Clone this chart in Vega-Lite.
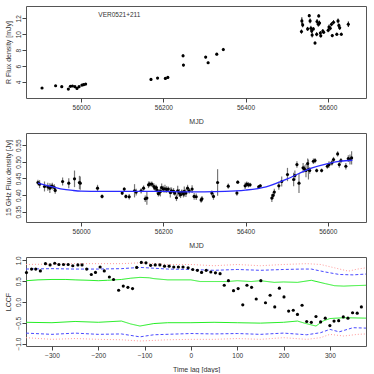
{
  "$schema": "https://vega.github.io/schema/vega-lite/v6.json",
  "padding": {"left": 3, "top": 5, "right": 0, "bottom": 0},
  "spacing": 35,
  "bounds": "flush",
  "config": {
    "font": "Liberation Sans",
    "view": {"stroke": "#555", "strokeWidth": 1},
    "axis": {
      "grid": false, "domain": false, "labelOverlap": false,
      "labelFontSize": 6.5, "titleFontSize": 7, "titleFontWeight": "normal",
      "labelColor": "#333", "titleColor": "#333", "tickColor": "#444", "tickSize": 4,
      "labelPadding": 2
    },
    "axisX": {"titlePadding": 7},
    "axisY": {"labelAngle": -90, "labelAlign": "center", "labelBaseline": "bottom", "labelPadding": 1, "titlePadding": 4}
  },
  "vconcat": [
    {
      "width": 340, "height": 92,
      "encoding": {
        "x": {"field": "mjd", "type": "quantitative", "title": "MJD", "scale": {"domain": [55866, 56693], "nice": false, "zero": false},
              "axis": {"values": [56000, 56200, 56400, 56600], "format": "d", "tickCount": 4}},
        "y": {"field": "flux", "type": "quantitative", "title": "R Flux density [mJy]", "scale": {"domain": [2.0, 13.54], "nice": false, "zero": false},
              "axis": {"values": [4, 6, 8, 10, 12], "format": "d", "tickCount": 6}}
      },
      "data": {"values": [
        {"mjd": 55905, "flux": 3.25, "err": 0.1},
        {"mjd": 55938, "flux": 3.54, "err": 0.1},
        {"mjd": 55953, "flux": 3.42, "err": 0.1},
        {"mjd": 55969, "flux": 3.12, "err": 0.1},
        {"mjd": 55974, "flux": 3.46, "err": 0.1},
        {"mjd": 55979, "flux": 3.5, "err": 0.1},
        {"mjd": 55985, "flux": 3.42, "err": 0.1},
        {"mjd": 55990, "flux": 3.2, "err": 0.1},
        {"mjd": 55995, "flux": 3.42, "err": 0.1},
        {"mjd": 56002, "flux": 3.62, "err": 0.12},
        {"mjd": 56006, "flux": 3.67, "err": 0.12},
        {"mjd": 56011, "flux": 3.75, "err": 0.12},
        {"mjd": 56170, "flux": 4.33, "err": 0.12},
        {"mjd": 56186, "flux": 4.5, "err": 0.12},
        {"mjd": 56205, "flux": 4.46, "err": 0.12},
        {"mjd": 56211, "flux": 4.58, "err": 0.12},
        {"mjd": 56248, "flux": 7.3, "err": 0.2},
        {"mjd": 56249, "flux": 6.13, "err": 0.15},
        {"mjd": 56303, "flux": 7.13, "err": 0.15},
        {"mjd": 56309, "flux": 6.42, "err": 0.15},
        {"mjd": 56330, "flux": 7.5, "err": 0.15},
        {"mjd": 56346, "flux": 8.08, "err": 0.2},
        {"mjd": 56536, "flux": 10.33, "err": 0.25},
        {"mjd": 56537, "flux": 11.67, "err": 0.45},
        {"mjd": 56539, "flux": 11.17, "err": 0.3},
        {"mjd": 56551, "flux": 10.67, "err": 0.25},
        {"mjd": 56555, "flux": 12.33, "err": 0.2},
        {"mjd": 56557, "flux": 11.67, "err": 0.3},
        {"mjd": 56559, "flux": 10.75, "err": 0.3},
        {"mjd": 56561, "flux": 10.4, "err": 0.25},
        {"mjd": 56562, "flux": 9.9, "err": 0.3},
        {"mjd": 56565, "flux": 10.67, "err": 0.2},
        {"mjd": 56569, "flux": 8.9, "err": 0.2},
        {"mjd": 56573, "flux": 10.0, "err": 0.25},
        {"mjd": 56574, "flux": 11.6, "err": 0.3},
        {"mjd": 56577, "flux": 11.25, "err": 0.3},
        {"mjd": 56578, "flux": 12.3, "err": 0.2},
        {"mjd": 56580, "flux": 11.4, "err": 0.3},
        {"mjd": 56582, "flux": 10.15, "err": 0.25},
        {"mjd": 56583, "flux": 9.8, "err": 0.2},
        {"mjd": 56588, "flux": 10.4, "err": 0.25},
        {"mjd": 56590, "flux": 10.25, "err": 0.2},
        {"mjd": 56601, "flux": 10.5, "err": 0.25},
        {"mjd": 56603, "flux": 10.9, "err": 0.3},
        {"mjd": 56606, "flux": 10.75, "err": 0.25},
        {"mjd": 56609, "flux": 11.25, "err": 0.25},
        {"mjd": 56611, "flux": 9.83, "err": 0.2},
        {"mjd": 56614, "flux": 11.5, "err": 0.25},
        {"mjd": 56622, "flux": 10.0, "err": 0.2},
        {"mjd": 56625, "flux": 11.67, "err": 0.3},
        {"mjd": 56627, "flux": 11.1, "err": 0.25},
        {"mjd": 56629, "flux": 10.8, "err": 0.25},
        {"mjd": 56633, "flux": 10.0, "err": 0.2},
        {"mjd": 56650, "flux": 11.25, "err": 0.35}
      ]},
      "layer": [
        {
          "mark": {"type": "errorbar", "color": "black", "thickness": 1},
          "encoding": {"yError": {"field": "err"}}
        },
        {
          "mark": {"type": "point", "filled": true, "color": "black", "size": 10, "opacity": 1}
        },
        {
          "data": {"values": [{"mjd": 56093, "flux": 12.41, "label": "VER0521+211"}]},
          "mark": {"type": "text", "fontSize": 6.5, "color": "#333", "font": "Liberation Sans"},
          "encoding": {"text": {"field": "label"}}
        }
      ]
    },
    {
      "width": 340, "height": 89,
      "encoding": {
        "x": {"field": "mjd", "type": "quantitative", "title": "MJD", "scale": {"domain": [55866, 56693], "nice": false, "zero": false},
              "axis": {"values": [56000, 56200, 56400, 56600], "format": "d", "tickCount": 4}},
        "y": {"field": "flux", "type": "quantitative", "title": "15 GHz Flux density [Jy]", "scale": {"domain": [0.319, 0.587], "nice": false, "zero": false},
              "axis": {"values": [0.35, 0.4, 0.45, 0.5, 0.55], "format": ".2f", "tickCount": 6}}
      },
      "layer": [
        {
          "data": {"values": [
            {"mjd": 55895, "flux": 0.438, "err": 0.008},
            {"mjd": 55899, "flux": 0.433, "err": 0.012},
            {"mjd": 55911, "flux": 0.426, "err": 0.015},
            {"mjd": 55919, "flux": 0.425, "err": 0.012},
            {"mjd": 55924, "flux": 0.421, "err": 0.015},
            {"mjd": 55927, "flux": 0.426, "err": 0.008},
            {"mjd": 55930, "flux": 0.427, "err": 0.01},
            {"mjd": 55935, "flux": 0.423, "err": 0.01},
            {"mjd": 55937, "flux": 0.414, "err": 0.01},
            {"mjd": 55955, "flux": 0.441, "err": 0.012},
            {"mjd": 55970, "flux": 0.436, "err": 0.015},
            {"mjd": 55984, "flux": 0.449, "err": 0.025},
            {"mjd": 55996, "flux": 0.438, "err": 0.02},
            {"mjd": 55998, "flux": 0.436, "err": 0.02},
            {"mjd": 56040, "flux": 0.421, "err": 0.01},
            {"mjd": 56051, "flux": 0.396, "err": 0.006},
            {"mjd": 56100, "flux": 0.406, "err": 0.006},
            {"mjd": 56105, "flux": 0.418, "err": 0.006},
            {"mjd": 56109, "flux": 0.396, "err": 0.006},
            {"mjd": 56117, "flux": 0.395, "err": 0.008},
            {"mjd": 56130, "flux": 0.413, "err": 0.02},
            {"mjd": 56134, "flux": 0.409, "err": 0.01},
            {"mjd": 56146, "flux": 0.413, "err": 0.008},
            {"mjd": 56152, "flux": 0.421, "err": 0.008},
            {"mjd": 56156, "flux": 0.389, "err": 0.01},
            {"mjd": 56160, "flux": 0.391, "err": 0.02},
            {"mjd": 56164, "flux": 0.431, "err": 0.01},
            {"mjd": 56167, "flux": 0.433, "err": 0.008},
            {"mjd": 56172, "flux": 0.433, "err": 0.008},
            {"mjd": 56177, "flux": 0.426, "err": 0.01},
            {"mjd": 56180, "flux": 0.421, "err": 0.01},
            {"mjd": 56183, "flux": 0.423, "err": 0.008},
            {"mjd": 56185, "flux": 0.414, "err": 0.01},
            {"mjd": 56188, "flux": 0.404, "err": 0.008},
            {"mjd": 56190, "flux": 0.408, "err": 0.01},
            {"mjd": 56193, "flux": 0.411, "err": 0.015},
            {"mjd": 56196, "flux": 0.423, "err": 0.012},
            {"mjd": 56200, "flux": 0.418, "err": 0.01},
            {"mjd": 56204, "flux": 0.419, "err": 0.012},
            {"mjd": 56208, "flux": 0.417, "err": 0.01},
            {"mjd": 56212, "flux": 0.418, "err": 0.008},
            {"mjd": 56217, "flux": 0.408, "err": 0.015},
            {"mjd": 56220, "flux": 0.413, "err": 0.01},
            {"mjd": 56225, "flux": 0.411, "err": 0.01},
            {"mjd": 56228, "flux": 0.406, "err": 0.008},
            {"mjd": 56232, "flux": 0.392, "err": 0.01},
            {"mjd": 56235, "flux": 0.413, "err": 0.015},
            {"mjd": 56239, "flux": 0.406, "err": 0.012},
            {"mjd": 56242, "flux": 0.401, "err": 0.01},
            {"mjd": 56245, "flux": 0.409, "err": 0.008},
            {"mjd": 56249, "flux": 0.403, "err": 0.01},
            {"mjd": 56251, "flux": 0.411, "err": 0.015},
            {"mjd": 56255, "flux": 0.406, "err": 0.012},
            {"mjd": 56259, "flux": 0.421, "err": 0.01},
            {"mjd": 56263, "flux": 0.413, "err": 0.008},
            {"mjd": 56270, "flux": 0.418, "err": 0.012},
            {"mjd": 56275, "flux": 0.396, "err": 0.01},
            {"mjd": 56280, "flux": 0.395, "err": 0.01},
            {"mjd": 56292, "flux": 0.385, "err": 0.008},
            {"mjd": 56294, "flux": 0.389, "err": 0.008},
            {"mjd": 56318, "flux": 0.406, "err": 0.008},
            {"mjd": 56322, "flux": 0.396, "err": 0.01},
            {"mjd": 56332, "flux": 0.438, "err": 0.04},
            {"mjd": 56358, "flux": 0.427, "err": 0.008},
            {"mjd": 56379, "flux": 0.406, "err": 0.008},
            {"mjd": 56381, "flux": 0.439, "err": 0.005},
            {"mjd": 56399, "flux": 0.428, "err": 0.01},
            {"mjd": 56403, "flux": 0.433, "err": 0.008},
            {"mjd": 56407, "flux": 0.431, "err": 0.008},
            {"mjd": 56411, "flux": 0.431, "err": 0.006},
            {"mjd": 56432, "flux": 0.425, "err": 0.005},
            {"mjd": 56436, "flux": 0.428, "err": 0.005},
            {"mjd": 56464, "flux": 0.391, "err": 0.012},
            {"mjd": 56467, "flux": 0.399, "err": 0.01},
            {"mjd": 56470, "flux": 0.409, "err": 0.01},
            {"mjd": 56481, "flux": 0.428, "err": 0.012},
            {"mjd": 56488, "flux": 0.441, "err": 0.015},
            {"mjd": 56502, "flux": 0.462, "err": 0.02},
            {"mjd": 56517, "flux": 0.447, "err": 0.02},
            {"mjd": 56520, "flux": 0.459, "err": 0.015},
            {"mjd": 56525, "flux": 0.492, "err": 0.01},
            {"mjd": 56530, "flux": 0.436, "err": 0.03},
            {"mjd": 56540, "flux": 0.482, "err": 0.015},
            {"mjd": 56543, "flux": 0.479, "err": 0.01},
            {"mjd": 56547, "flux": 0.474, "err": 0.02},
            {"mjd": 56551, "flux": 0.495, "err": 0.015},
            {"mjd": 56553, "flux": 0.477, "err": 0.03},
            {"mjd": 56556, "flux": 0.474, "err": 0.01},
            {"mjd": 56565, "flux": 0.502, "err": 0.008},
            {"mjd": 56569, "flux": 0.504, "err": 0.008},
            {"mjd": 56573, "flux": 0.474, "err": 0.006},
            {"mjd": 56585, "flux": 0.474, "err": 0.006},
            {"mjd": 56599, "flux": 0.487, "err": 0.008},
            {"mjd": 56603, "flux": 0.492, "err": 0.01},
            {"mjd": 56610, "flux": 0.497, "err": 0.008},
            {"mjd": 56614, "flux": 0.507, "err": 0.008},
            {"mjd": 56624, "flux": 0.524, "err": 0.008},
            {"mjd": 56628, "flux": 0.492, "err": 0.01},
            {"mjd": 56632, "flux": 0.504, "err": 0.008},
            {"mjd": 56644, "flux": 0.487, "err": 0.01},
            {"mjd": 56650, "flux": 0.51, "err": 0.01},
            {"mjd": 56654, "flux": 0.507, "err": 0.015},
            {"mjd": 56658, "flux": 0.512, "err": 0.02}
          ]},
          "layer": [
            {
              "mark": {"type": "errorbar", "color": "#777", "thickness": 1.2},
              "encoding": {"yError": {"field": "err"}}
            },
            {
              "mark": {"type": "point", "filled": true, "color": "black", "size": 10, "opacity": 1}
            }
          ]
        },
        {
          "data": {"values": [
            {"mjd": 55895, "flux": 0.436}, {"mjd": 55920, "flux": 0.428}, {"mjd": 55950, "flux": 0.419},
            {"mjd": 55980, "flux": 0.414}, {"mjd": 56000, "flux": 0.412}, {"mjd": 56050, "flux": 0.411},
            {"mjd": 56100, "flux": 0.411}, {"mjd": 56150, "flux": 0.411}, {"mjd": 56200, "flux": 0.411},
            {"mjd": 56250, "flux": 0.41}, {"mjd": 56300, "flux": 0.41}, {"mjd": 56350, "flux": 0.411},
            {"mjd": 56400, "flux": 0.415}, {"mjd": 56450, "flux": 0.425}, {"mjd": 56500, "flux": 0.448},
            {"mjd": 56530, "flux": 0.465}, {"mjd": 56560, "flux": 0.481}, {"mjd": 56600, "flux": 0.495},
            {"mjd": 56630, "flux": 0.502}, {"mjd": 56660, "flux": 0.505}
          ]},
          "mark": {"type": "line", "color": "#2a2aff", "strokeWidth": 1.3, "interpolate": "monotone"}
        }
      ]
    },
    {
      "width": 340, "height": 89,
      "encoding": {
        "x": {"field": "lag", "type": "quantitative", "title": "Time lag [days]", "scale": {"domain": [-356, 378], "nice": false, "zero": false},
              "axis": {"values": [-300, -200, -100, 0, 100, 200, 300], "format": "d", "tickCount": 7}},
        "y": {"field": "v", "type": "quantitative", "title": "LCCF", "scale": {"domain": [-1.06, 1.08], "nice": false, "zero": false},
              "axis": {"values": [-1, -0.5, 0, 0.5, 1], "format": ".1f", "tickCount": 5}}
      },
      "layer": [
        {
          "data": {"values": [
            {"lag": -356, "v": 0.51, "lvl": "g", "side": "u"}, {"lag": -330, "v": 0.53, "lvl": "g", "side": "u"},
            {"lag": -300, "v": 0.54, "lvl": "g", "side": "u"}, {"lag": -270, "v": 0.54, "lvl": "g", "side": "u"},
            {"lag": -250, "v": 0.53, "lvl": "g", "side": "u"}, {"lag": -220, "v": 0.52, "lvl": "g", "side": "u"},
            {"lag": -200, "v": 0.51, "lvl": "g", "side": "u"}, {"lag": -180, "v": 0.52, "lvl": "g", "side": "u"},
            {"lag": -150, "v": 0.54, "lvl": "g", "side": "u"}, {"lag": -130, "v": 0.57, "lvl": "g", "side": "u"},
            {"lag": -110, "v": 0.59, "lvl": "g", "side": "u"}, {"lag": -90, "v": 0.58, "lvl": "g", "side": "u"},
            {"lag": -80, "v": 0.56, "lvl": "g", "side": "u"}, {"lag": -50, "v": 0.53, "lvl": "g", "side": "u"},
            {"lag": -20, "v": 0.53, "lvl": "g", "side": "u"}, {"lag": 0, "v": 0.53, "lvl": "g", "side": "u"},
            {"lag": 20, "v": 0.49, "lvl": "g", "side": "u"}, {"lag": 50, "v": 0.49, "lvl": "g", "side": "u"},
            {"lag": 80, "v": 0.49, "lvl": "g", "side": "u"}, {"lag": 100, "v": 0.51, "lvl": "g", "side": "u"},
            {"lag": 130, "v": 0.49, "lvl": "g", "side": "u"}, {"lag": 150, "v": 0.51, "lvl": "g", "side": "u"},
            {"lag": 180, "v": 0.47, "lvl": "g", "side": "u"}, {"lag": 200, "v": 0.48, "lvl": "g", "side": "u"},
            {"lag": 230, "v": 0.47, "lvl": "g", "side": "u"}, {"lag": 260, "v": 0.52, "lvl": "g", "side": "u"},
            {"lag": 290, "v": 0.44, "lvl": "g", "side": "u"}, {"lag": 310, "v": 0.39, "lvl": "g", "side": "u"},
            {"lag": 330, "v": 0.38, "lvl": "g", "side": "u"}, {"lag": 350, "v": 0.39, "lvl": "g", "side": "u"},
            {"lag": 378, "v": 0.4, "lvl": "g", "side": "u"},

            {"lag": -356, "v": -0.49, "lvl": "g", "side": "l"}, {"lag": -300, "v": -0.5, "lvl": "g", "side": "l"},
            {"lag": -250, "v": -0.47, "lvl": "g", "side": "l"}, {"lag": -200, "v": -0.49, "lvl": "g", "side": "l"},
            {"lag": -150, "v": -0.46, "lvl": "g", "side": "l"}, {"lag": -130, "v": -0.53, "lvl": "g", "side": "l"},
            {"lag": -110, "v": -0.58, "lvl": "g", "side": "l"}, {"lag": -80, "v": -0.52, "lvl": "g", "side": "l"},
            {"lag": -50, "v": -0.5, "lvl": "g", "side": "l"}, {"lag": 0, "v": -0.5, "lvl": "g", "side": "l"},
            {"lag": 50, "v": -0.49, "lvl": "g", "side": "l"}, {"lag": 100, "v": -0.5, "lvl": "g", "side": "l"},
            {"lag": 150, "v": -0.51, "lvl": "g", "side": "l"}, {"lag": 200, "v": -0.49, "lvl": "g", "side": "l"},
            {"lag": 230, "v": -0.46, "lvl": "g", "side": "l"}, {"lag": 245, "v": -0.51, "lvl": "g", "side": "l"},
            {"lag": 270, "v": -0.58, "lvl": "g", "side": "l"}, {"lag": 285, "v": -0.46, "lvl": "g", "side": "l"},
            {"lag": 300, "v": -0.4, "lvl": "g", "side": "l"}, {"lag": 330, "v": -0.38, "lvl": "g", "side": "l"},
            {"lag": 378, "v": -0.39, "lvl": "g", "side": "l"},

            {"lag": -356, "v": 0.79, "lvl": "b", "side": "u"}, {"lag": -300, "v": 0.8, "lvl": "b", "side": "u"},
            {"lag": -250, "v": 0.79, "lvl": "b", "side": "u"}, {"lag": -200, "v": 0.79, "lvl": "b", "side": "u"},
            {"lag": -150, "v": 0.8, "lvl": "b", "side": "u"}, {"lag": -110, "v": 0.83, "lvl": "b", "side": "u"},
            {"lag": -50, "v": 0.79, "lvl": "b", "side": "u"}, {"lag": 0, "v": 0.78, "lvl": "b", "side": "u"},
            {"lag": 50, "v": 0.76, "lvl": "b", "side": "u"}, {"lag": 100, "v": 0.78, "lvl": "b", "side": "u"},
            {"lag": 150, "v": 0.76, "lvl": "b", "side": "u"}, {"lag": 200, "v": 0.78, "lvl": "b", "side": "u"},
            {"lag": 240, "v": 0.79, "lvl": "b", "side": "u"}, {"lag": 260, "v": 0.79, "lvl": "b", "side": "u"},
            {"lag": 290, "v": 0.72, "lvl": "b", "side": "u"}, {"lag": 320, "v": 0.66, "lvl": "b", "side": "u"},
            {"lag": 350, "v": 0.65, "lvl": "b", "side": "u"}, {"lag": 378, "v": 0.67, "lvl": "b", "side": "u"},

            {"lag": -356, "v": -0.75, "lvl": "b", "side": "l"}, {"lag": -300, "v": -0.78, "lvl": "b", "side": "l"},
            {"lag": -250, "v": -0.75, "lvl": "b", "side": "l"}, {"lag": -200, "v": -0.78, "lvl": "b", "side": "l"},
            {"lag": -150, "v": -0.77, "lvl": "b", "side": "l"}, {"lag": -110, "v": -0.84, "lvl": "b", "side": "l"},
            {"lag": -80, "v": -0.79, "lvl": "b", "side": "l"}, {"lag": 0, "v": -0.76, "lvl": "b", "side": "l"},
            {"lag": 50, "v": -0.77, "lvl": "b", "side": "l"}, {"lag": 100, "v": -0.76, "lvl": "b", "side": "l"},
            {"lag": 150, "v": -0.78, "lvl": "b", "side": "l"}, {"lag": 200, "v": -0.75, "lvl": "b", "side": "l"},
            {"lag": 250, "v": -0.79, "lvl": "b", "side": "l"}, {"lag": 280, "v": -0.74, "lvl": "b", "side": "l"},
            {"lag": 300, "v": -0.66, "lvl": "b", "side": "l"}, {"lag": 320, "v": -0.72, "lvl": "b", "side": "l"},
            {"lag": 350, "v": -0.62, "lvl": "b", "side": "l"}, {"lag": 378, "v": -0.63, "lvl": "b", "side": "l"},

            {"lag": -356, "v": 0.9, "lvl": "r", "side": "u"}, {"lag": -300, "v": 0.91, "lvl": "r", "side": "u"},
            {"lag": -250, "v": 0.92, "lvl": "r", "side": "u"}, {"lag": -200, "v": 0.92, "lvl": "r", "side": "u"},
            {"lag": -150, "v": 0.92, "lvl": "r", "side": "u"}, {"lag": -110, "v": 0.94, "lvl": "r", "side": "u"},
            {"lag": -50, "v": 0.9, "lvl": "r", "side": "u"}, {"lag": 0, "v": 0.9, "lvl": "r", "side": "u"},
            {"lag": 50, "v": 0.87, "lvl": "r", "side": "u"}, {"lag": 100, "v": 0.9, "lvl": "r", "side": "u"},
            {"lag": 150, "v": 0.87, "lvl": "r", "side": "u"}, {"lag": 200, "v": 0.9, "lvl": "r", "side": "u"},
            {"lag": 250, "v": 0.92, "lvl": "r", "side": "u"}, {"lag": 280, "v": 0.9, "lvl": "r", "side": "u"},
            {"lag": 310, "v": 0.82, "lvl": "r", "side": "u"}, {"lag": 340, "v": 0.74, "lvl": "r", "side": "u"},
            {"lag": 360, "v": 0.79, "lvl": "r", "side": "u"}, {"lag": 378, "v": 0.82, "lvl": "r", "side": "u"},

            {"lag": -356, "v": -0.86, "lvl": "r", "side": "l"}, {"lag": -300, "v": -0.9, "lvl": "r", "side": "l"},
            {"lag": -250, "v": -0.88, "lvl": "r", "side": "l"}, {"lag": -200, "v": -0.9, "lvl": "r", "side": "l"},
            {"lag": -150, "v": -0.91, "lvl": "r", "side": "l"}, {"lag": -110, "v": -0.94, "lvl": "r", "side": "l"},
            {"lag": -50, "v": -0.91, "lvl": "r", "side": "l"}, {"lag": 0, "v": -0.9, "lvl": "r", "side": "l"},
            {"lag": 50, "v": -0.9, "lvl": "r", "side": "l"}, {"lag": 100, "v": -0.88, "lvl": "r", "side": "l"},
            {"lag": 150, "v": -0.9, "lvl": "r", "side": "l"}, {"lag": 200, "v": -0.86, "lvl": "r", "side": "l"},
            {"lag": 250, "v": -0.9, "lvl": "r", "side": "l"}, {"lag": 280, "v": -0.86, "lvl": "r", "side": "l"},
            {"lag": 300, "v": -0.78, "lvl": "r", "side": "l"}, {"lag": 330, "v": -0.82, "lvl": "r", "side": "l"},
            {"lag": 360, "v": -0.78, "lvl": "r", "side": "l"}, {"lag": 378, "v": -0.77, "lvl": "r", "side": "l"}
          ]},
          "mark": {"type": "line", "strokeWidth": 1},
          "encoding": {
            "color": {"field": "lvl", "type": "nominal", "scale": {"domain": ["g", "b", "r"], "range": ["#22ee22", "#4a4aff", "#ff9a9a"]}, "legend": null},
            "strokeDash": {"field": "lvl", "type": "nominal", "scale": {"domain": ["g", "b", "r"], "range": [[1, 0], [3, 2], [1, 2]]}, "legend": null},
            "detail": {"field": "side", "type": "nominal"}
          }
        },
        {
          "data": {"values": [
            {"lag": -355, "v": 0.705}, {"lag": -344, "v": 0.79}, {"lag": -335, "v": 0.79}, {"lag": -325, "v": 0.745},
            {"lag": -314, "v": 0.92}, {"lag": -304, "v": 0.89}, {"lag": -294, "v": 0.93}, {"lag": -285, "v": 0.9},
            {"lag": -275, "v": 0.9}, {"lag": -265, "v": 0.9}, {"lag": -255, "v": 0.87}, {"lag": -244, "v": 0.89},
            {"lag": -235, "v": 0.89}, {"lag": -225, "v": 0.79}, {"lag": -215, "v": 0.66}, {"lag": -206, "v": 0.71},
            {"lag": -196, "v": 0.84}, {"lag": -187, "v": 0.745}, {"lag": -176, "v": 0.6}, {"lag": -167, "v": 0.54},
            {"lag": -156, "v": 0.28}, {"lag": -146, "v": 0.38}, {"lag": -136, "v": 0.35}, {"lag": -126, "v": 0.32},
            {"lag": -117, "v": 0.83}, {"lag": -107, "v": 0.95}, {"lag": -97, "v": 0.94}, {"lag": -87, "v": 0.88},
            {"lag": -77, "v": 0.89}, {"lag": -67, "v": 0.89}, {"lag": -57, "v": 0.86}, {"lag": -47, "v": 0.86},
            {"lag": -37, "v": 0.84}, {"lag": -27, "v": 0.84}, {"lag": -17, "v": 0.84}, {"lag": -6, "v": 0.82},
            {"lag": 4, "v": 0.78}, {"lag": 14, "v": 0.76}, {"lag": 23, "v": 0.71}, {"lag": 33, "v": 0.76},
            {"lag": 43, "v": 0.72}, {"lag": 53, "v": 0.7}, {"lag": 63, "v": 0.68}, {"lag": 72, "v": 0.4},
            {"lag": 81, "v": 0.51}, {"lag": 92, "v": 0.27}, {"lag": 102, "v": 0.32}, {"lag": 112, "v": -0.07},
            {"lag": 121, "v": 0.4}, {"lag": 131, "v": 0.35}, {"lag": 141, "v": 0.07}, {"lag": 151, "v": 0.51},
            {"lag": 161, "v": -0.02}, {"lag": 171, "v": 0.16}, {"lag": 181, "v": -0.12}, {"lag": 191, "v": 0.33},
            {"lag": 201, "v": 0.12}, {"lag": 211, "v": -0.22}, {"lag": 221, "v": -0.2}, {"lag": 230, "v": -0.3},
            {"lag": 240, "v": -0.08}, {"lag": 250, "v": -0.47}, {"lag": 260, "v": -0.49}, {"lag": 270, "v": -0.35},
            {"lag": 280, "v": -0.48}, {"lag": 290, "v": -0.39}, {"lag": 300, "v": -0.57}, {"lag": 309, "v": -0.46},
            {"lag": 319, "v": -0.45}, {"lag": 329, "v": -0.36}, {"lag": 339, "v": -0.39}, {"lag": 349, "v": -0.26},
            {"lag": 359, "v": -0.27}, {"lag": 368, "v": -0.12}
          ]},
          "mark": {"type": "point", "filled": true, "color": "black", "size": 10, "opacity": 1}
        }
      ]
    }
  ]
}
